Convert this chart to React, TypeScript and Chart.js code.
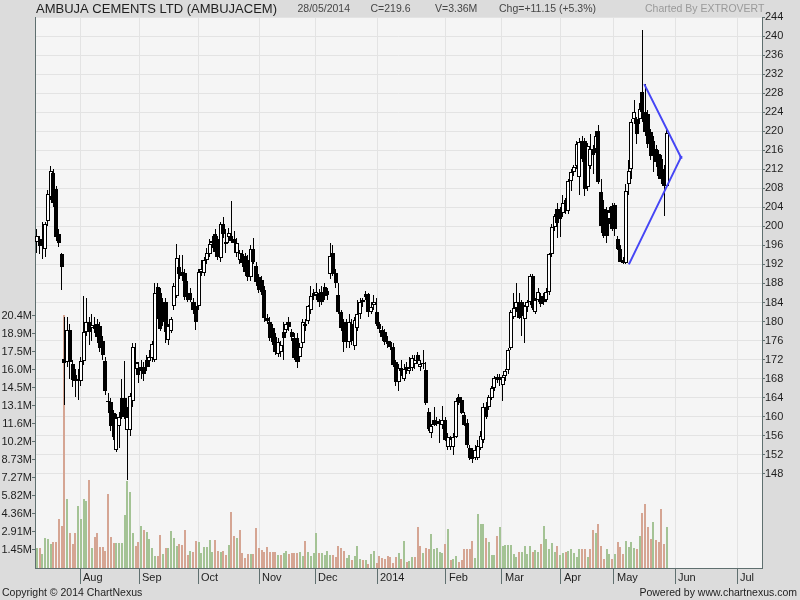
import { useEffect, useRef } from 'react';
import { Chart, registerables } from 'chart.js';

Chart.register(...registerables);

const opens = [
  196.8,197.3,195.8,195.2,201.1,206.1,211.2,207.8,198.3,194.1,
  172.2,171.4,178.3,171,168.8,168,167.4,171.6,177.7,179.8,
  178.6,179,179.4,179,176,171.6,163.2,163,160.8,153.1,
  158,164,164,157.3,157.3,163.2,171,170.3,170.5,170.5,
  172,171.8,172.4,172,187.2,186,184,184,176.2,178,
  183.2,185.3,191.4,190.5,190.1,186.1,186,184.2,183.2,183.2,
  190.5,190.3,193,194.1,196.5,198.3,197.3,193.3,200.4,196.2,
  197.7,198,197.3,194.3,193,194.1,193.7,193,189.3,195.2,
  191.6,189.3,188.8,186.7,180.8,180,178.7,176.8,173.1,173.5,
  177.7,178.3,180,177.7,176.6,176.6,172.6,175.4,179,180.2,
  182.5,186.1,185.5,186,186.3,187.2,186.5,189.9,194.5,190.3,
  185.5,181.9,179.8,179.5,175.8,179.5,174.9,178.7,181.5,184.5,
  185.7,185.7,182,183.5,182.1,179.4,178.3,177.9,176,175.6,
  174.7,171.4,167.2,170.3,168,170.5,169.5,170.3,171,173,
  170.5,171,169.9,161,156.6,159.4,159,158.4,158.3,159.4,
  153.7,153.7,153.7,155.8,164.2,163.6,160.4,158.7,153.5,153,
  151.4,151.4,153.5,155,162.1,162.1,164,166.1,168.4,168.4,
  166.7,168.5,169.9,174.5,181,182.9,184,184,180.5,183,
  184,189.5,182.1,184.6,185.3,185,184.6,186.3,194.1,199.8,
  203.6,203.6,202.9,205.5,203.2,209.5,211.4,212.6,210.3,217.9,
  217.9,208.2,212.6,216.2,216.2,220,207.2,203.6,203.5,201.5,
  204.2,204.5,197.3,195.2,193,192.4,208.8,212,222.5,222.5,
  222.5,228.2,224,223.6,219.8,218,216.2,215.2,214.1,212,
  208.4,
];

const highs = [
  199.5,198,201,201,207.7,212.7,212,208.5,199.5,194.5,
  181,181,179.5,172,170,170,172.5,185.3,185,181,
  181.5,181,180.5,180,177,172.5,165,164,161.5,160.5,
  161,168,171.7,162,165,175.5,175.5,171.5,172,171.5,
  173,174,176,188,188,187,185,185,179.5,181,
  188,196.2,194,194,191,188.5,187,185,184,191,
  193,193.5,195.5,197.3,198,199.5,198,201,201.9,199.5,
  199.7,205.3,199,197.5,195,195,194.5,194,196,197.5,
  192.5,190,189.5,187.5,181.5,181,179.5,177.5,176.5,176,
  180,180,181,178.5,177.5,177.5,175.5,180.5,180.5,183.5,
  187.5,186.8,188,186.8,187.5,188,187,196.5,196,191,
  188,182.5,180.5,180.5,181.5,180.5,181,184.5,185,185,
  186.5,186,184,185.5,185,180,179,178.5,177,176,
  175.5,172,171,172,171,171.5,172.5,173,173,173.5,
  172,174,171.5,161.8,158.5,162,160,159.5,162.3,160,
  156.5,156,156.5,164,164.8,164.2,161,159.5,154,153.5,
  154,155,157,162.8,163,164.5,166.5,168.5,169,169,
  168.8,170,174.5,182.5,186,188.2,186,184.5,183.5,184.5,
  190,190,185,187,186,186,187,194.5,200.5,202.5,
  205,204,206.5,206,210,212,213,218,218.5,219,
  218.5,217.5,219.5,217,220,221.3,210,205.5,204,204,
  205,205,198,196,193.5,209,214,222.5,226.5,223,
  226,241.3,229.9,224.5,220.5,219,217,216,215,213,
  220.5,
];

const lows = [
  194.5,194.2,193.2,193.5,200,205.5,204,197,195.6,186.7,
  162.5,170.5,168,166.3,164.2,163.6,166.5,170.8,177,175,
  176,177.5,175.5,173.5,172,164.5,160.8,157,155,152.6,
  153.5,159.5,159.5,146.7,156,162,170,167,168,167.5,
  169.5,170.5,171.5,171.5,180.5,178,179,175.5,175,177.5,
  182.5,185,189,188.5,184.5,184,184,181.5,178.3,182.5,
  189.5,189.5,192,193.5,195.5,193.5,193,192.5,197.5,194.5,
  196.5,196.5,194.5,193.5,192,191.5,189.5,188.5,188.5,192,
  187.5,186,185.5,180,179.5,176,175,173,172.5,172.5,
  172,177.5,178,176,172,170.3,171.5,174.5,178,179.5,
  181.5,184.5,184.5,183,183.5,184.5,184.5,189,189.5,187,
  181.5,178,173.7,174.5,174.5,175,174,178,180.5,183,
  184.5,181,181.5,182.5,179,177.5,176,175,174.5,174,
  170.5,166.5,165.5,168.5,167.5,169,169,169.5,170,171,
  169.5,170,162.5,157,155.5,158,158,154.5,157.5,154.8,
  153,153,152,155.5,162.5,160.5,158,153.5,151,150.3,
  151,151,153,154.5,159.5,161.5,163.5,165.5,167,166.5,
  163.2,167.5,169,174,180.5,182,180.5,177,175.5,182,
  183.5,182.5,181.5,184,183,183.5,184,185.5,193.5,199,
  197.5,197.8,202,202.5,202.5,207.5,210.5,212,206.5,213.5,
  206.3,207.5,212,211,215.5,209,198.5,197.5,196.5,200.5,
  199,198,195,192.5,192,192,206.5,210,221.5,217.3,
  221.5,222,219,216.5,214,211.4,212.5,210,209,202.1,
  208,
];

const closes = [
  198,195.8,196.3,200.4,206.7,211.6,205,197.7,196.6,191.4,
  171.2,178.3,171.4,167.8,167.4,167.4,171.6,177.7,179.8,177.7,
  179.2,178.5,176.8,174.5,173,165.3,163,158,155.8,159.8,
  160,160,160,160,164.4,174.7,171.5,168.8,169.5,169,
  170.5,172.5,175.2,186.1,181,178.5,180,177.7,179,180.5,
  187.4,193.3,189.9,189.5,185.1,184.6,184.6,182.5,180,190.5,
  191,193,194.5,196.2,197,194.7,193.5,200.4,198.3,196.8,
  198.7,197,196.6,196.6,194.3,192.4,190.5,189.3,195.2,192.6,
  188.4,186.7,186.3,180.8,180.2,176.6,175.6,173.5,175.6,175,
  176.6,179.4,178.8,176.8,172.4,171.4,174.7,179.8,179.5,183.2,
  185.3,185.3,186.3,184,184,185.3,185.5,193.7,189.9,188.2,
  182.1,178.7,175.6,175.8,180,175.9,180.4,181.5,184.2,184,
  185.1,181.9,183,184.2,179.4,178.5,176.8,175.8,175.2,174.7,
  170.9,167.2,170.3,169.5,170,169.8,170.3,172.4,172,171.6,
  171,171.2,162.9,157.5,158.1,158.3,158.4,158.5,159.4,155.2,
  155.8,155.3,155.8,163.2,162.9,160.8,158.3,154.1,151.4,151.2,
  153.1,153.8,156,162.1,160,164.2,166.1,168.2,167.8,167.8,
  168.4,169.5,174.1,182.1,182.9,184.2,180.8,181.2,183.2,184.2,
  189.5,182.9,184.6,186.3,183.6,184,186.3,194.1,199.8,202.1,
  200.8,201.5,205,203.2,209.5,211.4,212.4,217.3,217.7,214.1,
  207.8,216.8,216.2,215,219,209.3,200,197.9,198,203,
  199.4,199.5,195.2,192.6,192.2,207.4,211.6,221.9,224,219.4,
  224.6,224,219.8,217.3,214.7,214.7,213.5,210.5,209.9,208.4,
  219.6,
];

// volume in millions
const volumes = [
  1.64,1.64,1.13,2.45,2.34,1.91,2.07,2.07,3.96,3.36,
  20.4,5.55,2.8,1.91,2.85,5.04,3.96,5.58,5.44,7.1,
  1.59,2.53,2.85,1.67,1.67,1.37,6.0,2.48,2.05,2.05,
  2.05,2.05,4.28,7.0,6.17,2.85,1.78,2.13,3.39,3.07,
  2.88,2.34,1.59,1.0,1.0,2.67,1.1,1.59,1.64,2.99,
  2.45,1.78,1.91,1.86,3.07,1.05,1.37,1.32,2.18,2.07,
  1.24,1.72,1.72,2.26,1.27,2.26,1.4,1.32,1.4,1.05,
  1.86,4.55,2.61,2.4,3.07,1.24,0.84,1.13,1.13,1.13,
  3.26,1.64,1.45,1.32,1.72,1.32,1.32,1.32,1.05,1.05,
  1.19,1.4,1.16,1.19,1.19,1.19,1.32,1.0,2.18,1.32,
  1.0,1.19,2.85,1.24,1.19,1.05,1.4,1.05,1.05,0.86,
  1.78,1.59,1.37,0.78,1.05,0.65,0.97,1.78,0.73,0.65,
  0.65,0.3,1.13,1.37,0.38,0.97,0.78,0.7,1.0,0.92,
  0.38,0.92,1.19,0.73,2.18,0.51,0.57,0.92,0.92,3.31,
  1.81,1.24,1.64,1.54,2.75,1.54,1.64,1.27,1.21,1.97,
  3.15,0.62,0.73,1.0,0.46,0.62,1.54,1.54,1.54,2.18,
  0.84,4.36,3.58,3.56,2.4,2.07,1.05,1.05,2.59,3.29,
  1.78,1.86,1.86,1.86,1.1,0.92,1.27,1.27,1.78,1.1,
  1.78,1.32,1.45,1.32,1.94,3.39,2.32,1.54,2.05,1.27,
  1.78,1.05,1.19,1.32,1.37,1.54,1.24,0.86,1.54,1.54,
  1.54,0.86,1.54,3.07,2.8,3.56,1.81,0.73,1.54,1.16,
  0.73,1.13,2.07,1.72,1.1,2.18,1.67,2.13,1.64,1.54,
  2.59,4.42,5.17,3.34,2.32,3.74,2.26,2.13,4.77,1.91,
  3.34,
];

const monthTickPos = [15.8, 37.4, 58.9, 81.2, 101.6, 124.2, 149.2, 169.7, 191.2, 210.6, 233.0, 255.6];
const monthLabels = ['Aug', 'Sep', 'Oct', 'Nov', 'Dec', '2014', 'Feb', 'Mar', 'Apr', 'May', 'Jun', 'Jul'];

const priceTicks = [148,152,156,160,164,168,172,176,180,184,188,192,196,200,204,208,212,216,220,224,228,232,236,240,244];
const volTickVals = [1.4545,2.909,4.3636,5.818,7.2727,8.727,10.182,11.636,13.091,14.545,16.0,17.455,18.909,20.364];
const volTickLabels = ['1.45M','2.91M','4.36M','5.82M','7.27M','8.73M','10.2M','11.6M','13.1M','14.5M','16.0M','17.5M','18.9M','20.4M'];

// trend-line drawing (bar index, price)
const triX = [221.7, 235.1, 216.1];
const triY = [229.9, 214.5, 192.0];

const headerTitle = 'AMBUJA CEMENTS LTD (AMBUJACEM)';
const headerInfo = ['28/05/2014', 'C=219.6', 'V=3.36M', 'Chg=+11.15 (+5.3%)'];
const chartedBy = 'Charted By EXTROVERT';
const footerLeft = 'Copyright \u00A9 2014 ChartNexus';
const footerRight = 'Powered by www.chartnexus.com';

const FONT = '"Liberation Sans", Arial, sans-serif';

export default function App() {
  const ref = useRef<HTMLCanvasElement>(null);

  useEffect(() => {
    const canvas = ref.current;
    if (!canvas) return;
    const idx = closes.map((_, i) => i);
    const wickData = idx.map((i) => ({ x: i, y: [lows[i], highs[i]] }));
    const bodyData = idx.map((i) => ({ x: i, y: [Math.min(opens[i], closes[i]), Math.max(opens[i], closes[i])] }));
    const bodyColors = idx.map((i) => (closes[i] > opens[i] ? '#ffffff' : '#000000'));
    const volData = idx.map((i) => ({ x: i, y: volumes[i] }));
    const volColors = idx.map((i) => {
      const prev = i > 0 ? closes[i - 1] : opens[i];
      return closes[i] >= prev ? '#a4c395' : '#d5a593';
    });
    const triData = triX.map((x, k) => ({ x, y: triY[k] }));

    // snap bar elements (positioned by the scales) to whole pixels for crisp edges
    const snap = {
      id: 'snap',
      afterDatasetsUpdate(chart: any) {
        chart.data.datasets.forEach((ds: any, di: number) => {
          if (ds.type !== 'bar') return;
          const meta = chart.getDatasetMeta(di);
          meta.data.forEach((el: any) => {
            const half = el.width / 2;
            const left = Math.round(el.x - half);
            el.x = left + half;
            const top = Math.round(el.y);
            let base = Math.round(el.base);
            if (Math.abs(base - top) < 1) base = top + 1;
            el.y = top;
            el.base = base;
          });
        });
      },
    };

    const decor = {
      id: 'decor',
      beforeDraw(chart: any) {
        const { ctx, chartArea: a } = chart;
        ctx.save();
        ctx.fillStyle = '#dcdcdc';
        ctx.fillRect(0, 0, chart.width, chart.height);
        ctx.fillStyle = '#f5f5f5';
        ctx.fillRect(a.left, a.top, a.right - a.left, a.bottom - a.top);
        ctx.restore();
      },
      afterDraw(chart: any) {
        const { ctx } = chart;
        const xs = chart.scales.x;
        ctx.save();
        ctx.textBaseline = 'middle';
        ctx.textAlign = 'left';
        ctx.fillStyle = '#1e1e1e';
        ctx.font = `13px ${FONT}`;
        ctx.fillText(headerTitle, 36, 9);
        ctx.font = `10.5px ${FONT}`;
        ctx.fillStyle = '#464646';
        const infoX = [297.5, 370.5, 435, 499];
        headerInfo.forEach((t, k) => ctx.fillText(t, infoX[k], 9));
        ctx.fillStyle = '#9a9a9a';
        ctx.fillText(chartedBy, 645, 9);

        ctx.fillStyle = '#1e1e1e';
        ctx.font = `11px ${FONT}`;
        monthTickPos.forEach((p, k) => {
          const px = xs.getPixelForValue(p);
          ctx.fillText(monthLabels[k], Math.round(px) + 3, 578);
        });

        ctx.font = `10.5px ${FONT}`;
        ctx.fillText(footerLeft, 2, 593);
        ctx.textAlign = 'right';
        ctx.fillText(footerRight, 797, 593);
        ctx.restore();
      },
    };

    const chart = new Chart(canvas, {
      type: 'bar',
      data: {
        datasets: [
          {
            type: 'line',
            data: triData,
            xAxisID: 'x',
            yAxisID: 'yP',
            borderColor: '#4646f5',
            backgroundColor: '#4646f5',
            borderWidth: 2,
            pointRadius: [0, 2, 0],
            pointStyle: 'rect',
            pointBorderWidth: 0,
            fill: false,
            tension: 0,
            order: 0,
          } as any,
          {
            type: 'bar',
            data: bodyData,
            xAxisID: 'x',
            yAxisID: 'yP',
            backgroundColor: bodyColors,
            borderColor: '#000000',
            borderWidth: 1,
            borderSkipped: false,
            barThickness: 4,
            minBarLength: 1,
            grouped: false,
            inflateAmount: 0,
            order: 1,
          } as any,
          {
            type: 'bar',
            data: wickData,
            xAxisID: 'x',
            yAxisID: 'yP',
            backgroundColor: '#000000',
            borderWidth: 0,
            barThickness: 1,
            grouped: false,
            inflateAmount: 0,
            order: 2,
          } as any,
          {
            type: 'bar',
            data: volData,
            xAxisID: 'x',
            yAxisID: 'yV',
            backgroundColor: volColors,
            borderWidth: 0,
            barThickness: 2,
            grouped: false,
            inflateAmount: 0,
            order: 3,
          } as any,
        ],
      },
      options: {
        responsive: false,
        animation: false,
        devicePixelRatio: 1,
        layout: { padding: { top: 17, left: 0, right: 0, bottom: 0 } },
        plugins: { legend: { display: false }, tooltip: { enabled: false }, title: { display: false } },
        scales: {
          x: {
            type: 'linear',
            min: -0.73,
            max: 264.7,
            offset: false,
            afterBuildTicks: (s: any) => {
              s.ticks = monthTickPos.map((v) => ({ value: v }));
            },
            afterFit: (s: any) => {
              s.height = 32;
            },
            grid: { offset: false, color: '#e3e3e3', tickColor: '#5f6f6f', tickLength: 16, drawTicks: true },
            border: { display: true, color: '#5f6f6f' },
            ticks: { display: false },
          },
          yP: {
            type: 'linear',
            position: 'right',
            min: 128.2,
            max: 244,
            afterBuildTicks: (s: any) => {
              s.ticks = priceTicks.map((v) => ({ value: v }));
            },
            afterFit: (s: any) => {
              s.width = 38;
            },
            grid: { color: '#e3e3e3', tickColor: '#5f6f6f', tickLength: 3 },
            border: { display: true, color: '#5f6f6f' },
            ticks: {
              autoSkip: false,
              padding: 0,
              color: '#1e1e1e',
              font: { family: FONT, size: 11 },
              callback: (v: any) => String(v),
            },
          },
          yV: {
            type: 'linear',
            position: 'left',
            min: 0,
            max: 44.5,
            afterBuildTicks: (s: any) => {
              s.ticks = volTickVals.map((v) => ({ value: v }));
            },
            afterFit: (s: any) => {
              s.width = 35;
            },
            grid: { drawOnChartArea: false, tickColor: '#5f6f6f', tickLength: 3 },
            border: { display: true, color: '#5f6f6f' },
            ticks: {
              autoSkip: false,
              padding: 0,
              color: '#1e1e1e',
              font: { family: FONT, size: 11 },
              callback: (_v: any, i: number) => volTickLabels[i],
            },
          },
        },
      } as any,
      plugins: [snap, decor],
    });

    return () => chart.destroy();
  }, []);

  return (
    <div style={{ position: 'fixed', left: 0, top: 0, width: 800, height: 600 }}>
      <canvas ref={ref} width={800} height={600} style={{ display: 'block', width: 800, height: 600 }} />
    </div>
  );
}
